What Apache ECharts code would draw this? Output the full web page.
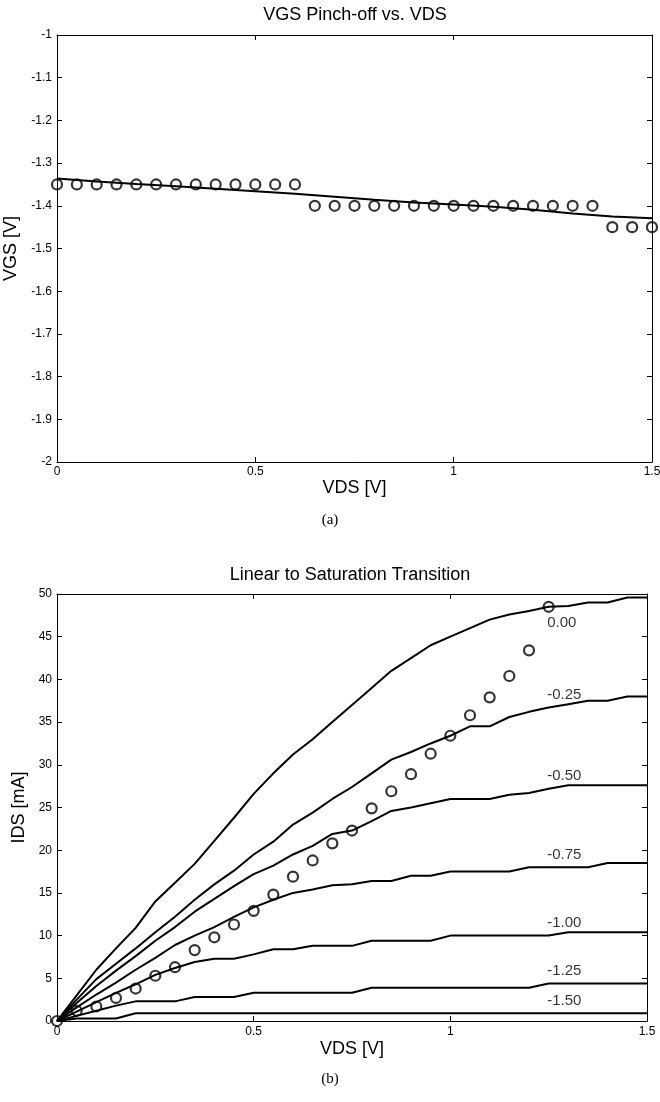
<!DOCTYPE html>
<html>
<head>
<meta charset="utf-8">
<script src="https://cdn.jsdelivr.net/npm/echarts@6/dist/echarts.min.js"></script>
<style>
  html, body { margin: 0; padding: 0; background: #fff; }
  #chart { width: 660px; height: 1102px; }
</style>
</head>
<body>
<div id="chart"></div>
<script>
// ---- (a) pinch-off gate voltage versus drain voltage ----
const vdsPinch = [0, 0.05, 0.1, 0.15, 0.2, 0.25, 0.3, 0.35, 0.4, 0.45, 0.5, 0.55, 0.6, 0.65, 0.7, 0.75,
  0.8, 0.85, 0.9, 0.95, 1, 1.05, 1.1, 1.15, 1.2, 1.25, 1.3, 1.35, 1.4, 1.45, 1.5];
const vgsPinchMeasured = [-1.35, -1.35, -1.35, -1.35, -1.35, -1.35, -1.35, -1.35, -1.35, -1.35, -1.35, -1.35, -1.35,
  -1.40, -1.40, -1.40, -1.40, -1.40, -1.40, -1.40, -1.40, -1.40, -1.40, -1.40, -1.40, -1.40, -1.40, -1.40,
  -1.45, -1.45, -1.45];
const vdsFit = [0, 0.1, 0.2, 0.3, 0.4, 0.5, 0.6, 0.7, 0.8, 0.9, 1.0, 1.1, 1.2, 1.3, 1.4, 1.5];
const vgsPinchFit = [-1.336, -1.343, -1.349, -1.354, -1.360, -1.366, -1.372, -1.379, -1.386, -1.392,
  -1.397, -1.402, -1.409, -1.418, -1.425, -1.429];

// ---- (b) drain current family, one curve per gate voltage ----
const vdsSweep = [0, 0.05, 0.1, 0.15, 0.2, 0.25, 0.3, 0.35, 0.4, 0.45, 0.5, 0.55, 0.6, 0.65, 0.7, 0.75,
  0.8, 0.85, 0.9, 0.95, 1, 1.05, 1.1, 1.15, 1.2, 1.25, 1.3, 1.35, 1.4, 1.45, 1.5];
const vgsNames = ['0.00', '-0.25', '-0.50', '-0.75', '-1.00', '-1.25', '-1.50'];
const idsVgs000 = [0, 3.0, 6.0, 8.5, 10.9, 14.0, 16.2, 18.4, 21.1, 23.8, 26.6, 29.0, 31.2, 33.0, 35.0, 37.0,
  39.0, 41.0, 42.5, 44.0, 45.0, 46.0, 47.0, 47.6, 48.0, 48.5, 48.6, 49.0, 49.0, 49.6, 49.6];
const idsVgs025 = [0, 2.5, 4.9, 6.7, 8.5, 10.4, 12.2, 14.2, 16.0, 17.6, 19.5, 21.0, 23.0, 24.4, 26.0, 27.4,
  29.0, 30.6, 31.5, 32.5, 33.4, 34.5, 34.5, 35.6, 36.2, 36.7, 37.1, 37.5, 37.5, 38.0, 38.0];
const idsVgs050 = [0, 2.1, 4.1, 5.9, 7.6, 9.4, 11.0, 12.8, 14.3, 15.8, 17.2, 18.2, 19.5, 20.5, 21.9, 22.3,
  23.4, 24.6, 25.0, 25.5, 26.0, 26.0, 26.0, 26.5, 26.7, 27.2, 27.6, 27.6, 27.6, 27.6, 27.6];
const idsVgs075 = [0, 1.6, 3.1, 4.5, 6.0, 7.4, 8.9, 10.0, 11.0, 12.2, 13.3, 14.2, 15.0, 15.4, 15.9, 16.0,
  16.4, 16.4, 17.0, 17.0, 17.5, 17.5, 17.5, 17.5, 18.0, 18.0, 18.0, 18.0, 18.5, 18.5, 18.5];
const idsVgs100 = [0, 1.1, 2.2, 3.3, 4.3, 5.4, 6.2, 6.9, 7.3, 7.3, 7.8, 8.4, 8.4, 8.8, 8.8, 8.8,
  9.4, 9.4, 9.4, 9.4, 10.0, 10.0, 10.0, 10.0, 10.0, 10.0, 10.4, 10.4, 10.4, 10.4, 10.4];
const idsVgs125 = [0, 0.6, 1.2, 1.8, 2.3, 2.3, 2.3, 2.8, 2.8, 2.8, 3.3, 3.3, 3.3, 3.3, 3.3, 3.3,
  3.9, 3.9, 3.9, 3.9, 3.9, 3.9, 3.9, 3.9, 3.9, 4.4, 4.4, 4.4, 4.4, 4.4, 4.4];
const idsVgs150 = [0, 0.3, 0.3, 0.3, 0.9, 0.9, 0.9, 0.9, 0.9, 0.9, 0.9, 0.9, 0.9, 0.9, 0.9, 0.9,
  0.9, 0.9, 0.9, 0.9, 0.9, 0.9, 0.9, 0.9, 0.9, 0.9, 0.9, 0.9, 0.9, 0.9, 0.9];
const idsCurves = [idsVgs000, idsVgs025, idsVgs050, idsVgs075, idsVgs100, idsVgs125, idsVgs150];

// linear-to-saturation transition points
const vdsTransition = [0, 0.05, 0.1, 0.15, 0.2, 0.25, 0.3, 0.35, 0.4, 0.45, 0.5, 0.55, 0.6, 0.65, 0.7, 0.75,
  0.8, 0.85, 0.9, 0.95, 1, 1.05, 1.1, 1.15, 1.2, 1.25];
const idsTransition = [0, 1.2, 1.7, 2.7, 3.8, 5.3, 6.3, 8.3, 9.8, 11.3, 12.9, 14.8, 16.9, 18.8, 20.8, 22.3,
  24.9, 26.9, 28.9, 31.3, 33.4, 35.8, 37.9, 40.4, 43.4, 48.5];

// the curve labels sit at this drain voltage
const labelVds = 1.25;

const FONT = '"Liberation Sans", Arial, sans-serif';
const zip = (xs, ys) => xs.map((x, i) => [x, ys[i]]);

function frameAxes(grid, min, max, step, isX, opts) {
  const common = {
    type: 'value', gridIndex: grid, min: min, max: max, interval: step,
    axisLine: { show: true, onZero: false, lineStyle: { color: '#000', width: 1 } },
    axisTick: { show: true, inside: true, length: 5, lineStyle: { color: '#000', width: 1 } },
    splitLine: { show: false }
  };
  const main = Object.assign({}, common, {
    position: isX ? 'bottom' : 'left',
    axisLabel: { color: '#000', fontFamily: FONT, fontSize: 12, margin: opts.labelMargin,
      formatter: v => String(Number(v.toFixed(2))) },
    name: opts.name, nameLocation: 'middle', nameGap: opts.nameGap,
    nameTextStyle: { color: '#000', fontFamily: FONT, fontSize: 18 }
  });
  const mirror = Object.assign({}, common, {
    position: isX ? 'top' : 'right',
    axisLabel: { show: false }
  });
  return [main, mirror];
}

const xA = frameAxes(0, 0, 1.5, 0.5, true, { name: 'VDS [V]', nameGap: 12, labelMargin: 4 });
const yA = frameAxes(0, -2, -1, 0.1, false, { name: 'VGS [V]', nameGap: 27, labelMargin: 5 });
const xB = frameAxes(1, 0, 1.5, 0.5, true, { name: 'VDS [V]', nameGap: 19, labelMargin: 5 });
const yB = frameAxes(1, 0, 50, 5, false, { name: 'IDS [mA]', nameGap: 27, labelMargin: 5 });

const openCircle = {
  type: 'scatter', symbol: 'circle', symbolSize: 10,
  itemStyle: { color: 'rgba(255,255,255,0)', borderColor: '#000', borderWidth: 2.2 },
  z: 5
};

const series = [
  {
    type: 'line', xAxisIndex: 0, yAxisIndex: 0, data: zip(vdsFit, vgsPinchFit),
    showSymbol: false, lineStyle: { color: '#000', width: 2 }
  },
  Object.assign({}, openCircle, { xAxisIndex: 0, yAxisIndex: 0, data: zip(vdsPinch, vgsPinchMeasured) })
];

const labelIndex = vdsSweep.indexOf(labelVds);
idsCurves.forEach((curve, k) => {
  series.push({
    type: 'line', xAxisIndex: 2, yAxisIndex: 2, data: zip(vdsSweep, curve),
    showSymbol: false, lineStyle: { color: '#000', width: 2 }
  });
  // gate-voltage tag: a 1px anchor on the curve carrying the text
  series.push({
    type: 'scatter', xAxisIndex: 2, yAxisIndex: 2, symbol: 'circle', symbolSize: 1,
    itemStyle: { color: '#000' }, silent: true, z: 6,
    data: [[labelVds, curve[labelIndex]]],
    label: {
      show: true, formatter: vgsNames[k], color: '#000', fontFamily: FONT, fontSize: 15,
      position: k === 0 ? [-1, 17] : [-1, -12], align: 'left', verticalAlign: 'middle'
    }
  });
});
series.push(Object.assign({}, openCircle, { xAxisIndex: 2, yAxisIndex: 2, data: zip(vdsTransition, idsTransition) }));

const chart = echarts.init(document.getElementById('chart'), null, { renderer: 'canvas' });
chart.setOption({
  backgroundColor: '#fff',
  animation: false,
  grid: [
    { left: 57, top: 35, width: 595, height: 427, containLabel: false, outerBoundsMode: 'none' },
    { left: 57, top: 594, width: 590, height: 427, containLabel: false, outerBoundsMode: 'none' }
  ],
  xAxis: [xA[0], xA[1], xB[0], xB[1]],
  yAxis: [yA[0], yA[1], yB[0], yB[1]],
  graphic: [
    { type: 'text', x: 355, y: 15, style: { text: 'VGS Pinch-off vs. VDS', font: '18px ' + FONT, fill: '#000', textAlign: 'center', textVerticalAlign: 'middle' } },
    { type: 'text', x: 350, y: 575, style: { text: 'Linear to Saturation Transition', font: '18px ' + FONT, fill: '#000', textAlign: 'center', textVerticalAlign: 'middle' } },
    { type: 'text', x: 330, y: 520, style: { text: '(a)', font: '15px "Liberation Serif", "Times New Roman", serif', fill: '#000', textAlign: 'center', textVerticalAlign: 'middle' } },
    { type: 'text', x: 330, y: 1079, style: { text: '(b)', font: '15px "Liberation Serif", "Times New Roman", serif', fill: '#000', textAlign: 'center', textVerticalAlign: 'middle' } }
  ],
  series: series
});
</script>
</body>
</html>
